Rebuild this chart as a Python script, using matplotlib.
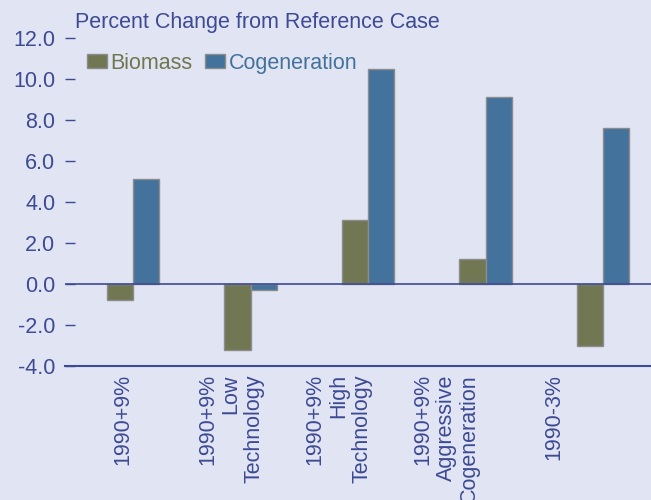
import numpy as np
import matplotlib
matplotlib.use("Agg")
import matplotlib.pyplot as plt

# data
categories = ["1990+9%", "1990+9%\nLow\nTechnology", "1990+9%\nHigh\nTechnology",
              "1990+9%\nAggressive\nCogeneration", "1990-3%"]
biomass = [-0.8, -3.2, 3.1, 1.2, -3.0]
cogeneration = [5.1, -0.3, 10.5, 9.1, 7.6]
yticks = [-4, -2, 0, 2, 4, 6, 8, 10, 12]

bg = "#e1e4f2"
navy = "#3d4a94"
olive = "#717653"
blue = "#43729c"

plt.rcParams["font.family"] = ["Liberation Sans", "DejaVu Sans"]
fs = 15.5

fig = plt.figure(figsize=(6.51, 5.0), dpi=100, facecolor=bg)
ax = fig.add_axes([65/651, 1-366/500, 1-65/651, 328/500], facecolor=bg)

x = np.arange(len(categories))
w = 0.225
ax.bar(x - w/2, biomass, w, color=olive, edgecolor="#8c8c8c", linewidth=1, label="Biomass", zorder=2)
ax.bar(x + w/2, cogeneration, w, color=blue, edgecolor="#8c8c8c", linewidth=1, label="Cogeneration", zorder=2)

ax.axhline(0, color=navy, linewidth=1.2, zorder=3)
ax.axhline(-4, color=navy, linewidth=1.5, zorder=3, clip_on=False)

ax.set_ylim(-4, 12)
ax.set_xlim(-0.579, 4.408)
for s in ax.spines.values():
    s.set_visible(False)

ax.set_yticks(yticks)
ax.set_yticklabels(["%.1f" % v for v in yticks])
ax.tick_params(axis="y", direction="in", length=7, width=1, color=navy,
               labelcolor=navy, labelsize=fs, pad=7)

# labels in the original sit a bit left of the bar groups
ax.set_xticks(-0.085 + 0.917 * x)
ax.set_xticklabels(categories, rotation=90, va="top", ha="center",
                   multialignment="right", linespacing=1.15)
ax.tick_params(axis="x", length=0, labelcolor=navy, labelsize=fs, pad=6)

leg = ax.legend(loc="center left", bbox_to_anchor=(0.0375, 0.923), ncol=2, frameon=False,
                fontsize=fs, handlelength=0.93, handleheight=0.6, handletextpad=0.15,
                columnspacing=0.6, borderpad=0, borderaxespad=0)
for t, c in zip(leg.get_texts(), [olive, blue]):
    t.set_color(c)

fig.text(75/651, 1-28/500, "Percent Change from Reference Case", color=navy,
         fontsize=fs, va="baseline", ha="left")

fig.savefig("out.png", dpi=100, facecolor=bg)
